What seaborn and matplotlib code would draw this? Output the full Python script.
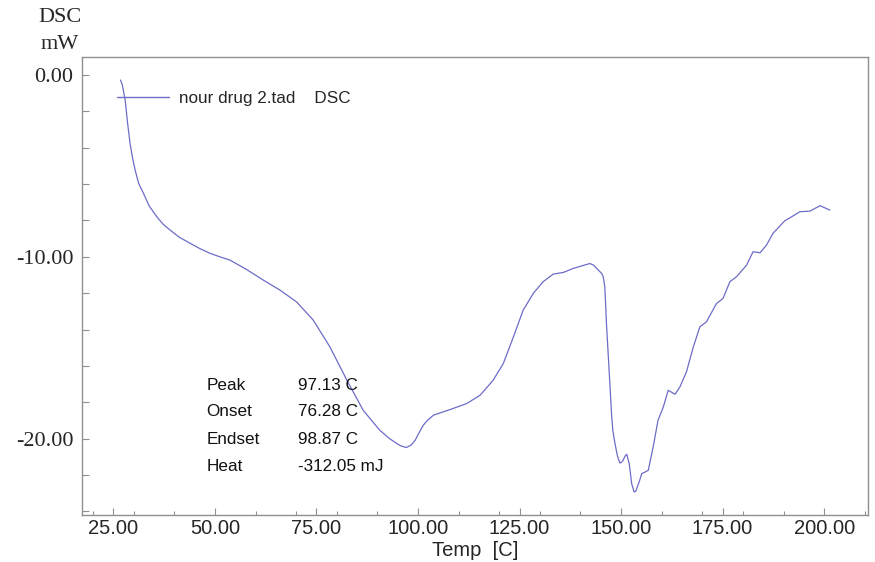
import matplotlib
matplotlib.use("Agg")
import matplotlib.pyplot as plt
from matplotlib.ticker import MultipleLocator, FixedLocator, FormatStrFormatter
import seaborn as sns
import pandas as pd

# DSC thermogram: temperature (C) and heat flow (mW)
temp = [26.75, 27.2, 27.9, 28.5, 29.1, 29.7, 30.35, 31.2, 32.4, 33.8, 35.7,
        37.2, 38.96, 41.2, 43.9, 46.3, 48.8, 51.2, 53.7, 57.8, 61.9, 66.0,
        70.1, 74.2, 78.3, 82.5, 86.5, 90.6, 93.0, 94.8, 95.8, 97.13, 98.3,
        99.3, 100.2, 101.3, 102.3, 103.8, 107.9, 112.0, 115.3, 118.5, 121.0,
        123.5, 125.9, 128.4, 130.8, 133.3, 135.8, 138.2, 140.3, 142.3, 143.2,
        144.0, 145.2, 145.6, 146.0, 146.4, 147.1, 147.7, 148.0, 148.5, 149.1,
        149.7, 150.1, 150.5, 151.0, 151.4, 152.0, 152.3, 152.6, 153.2, 153.6,
        154.0, 154.5, 155.1, 155.8, 156.7, 157.9, 159.1, 160.4, 161.6, 163.3,
        164.5, 166.1, 167.8, 169.4, 171.0, 173.5, 175.1, 176.8, 178.4, 180.9,
        182.5, 184.2, 185.8, 187.4, 190.3, 192.0, 194.0, 196.5, 199.0, 201.4]
dsc = [-0.28, -0.55, -1.38, -2.66, -3.76, -4.55, -5.23, -5.95, -6.51, -7.20, -7.80,
       -8.20, -8.53, -8.92, -9.26, -9.55, -9.81, -10.00, -10.18, -10.70, -11.28, -11.83,
       -12.48, -13.48, -14.95, -16.79, -18.44, -19.54, -20.00, -20.27, -20.40, -20.49, -20.35,
       -20.09, -19.70, -19.26, -19.00, -18.71, -18.40, -18.07, -17.61, -16.79, -15.87,
       -14.40, -12.93, -12.01, -11.37, -10.95, -10.86, -10.64, -10.50, -10.37, -10.45,
       -10.64, -10.91, -11.10, -11.65, -13.67, -16.42, -18.81, -19.60, -20.27, -20.95,
       -21.34, -21.30, -21.19, -20.95, -20.86, -21.37, -21.90, -22.47, -22.93, -22.90,
       -22.66, -22.35, -21.92, -21.85, -21.74, -20.46, -18.99, -18.26, -17.34, -17.56,
       -17.15, -16.33, -14.95, -13.85, -13.58, -12.57, -12.29, -11.37, -11.10, -10.46,
       -9.72, -9.78, -9.36, -8.71, -8.02, -7.80, -7.52, -7.49, -7.19, -7.43]

series_name = "nour drug 2.tad    DSC"

# Peak analysis results
result_names = ["Peak", "Onset", "Endset", "Heat"]
result_values = ["97.13 C", "76.28 C", "98.87 C", "-312.05 mJ"]

x_major = [25, 50, 75, 100, 125, 150, 175, 200]
y_major = [0, -10, -20]

sns.set_theme(style="white")
plt.rcParams["font.family"] = ["Liberation Sans", "DejaVu Sans"]

df = pd.DataFrame({"Temp": temp, "DSC": dsc})

fig = plt.figure(figsize=(8.75, 5.62), dpi=100)
ax = fig.add_axes([0.0934, 0.0836, 0.8986, 0.8144])

line_color = "#6c6cc8"
sns.lineplot(data=df, x="Temp", y="DSC", ax=ax, color=line_color,
             linewidth=0.9, estimator=None, sort=False, label=series_name)

ax.set_xlim(17.2, 210.8)
ax.set_ylim(-24.2, 0.97)

ax.xaxis.set_major_locator(FixedLocator(x_major))
ax.xaxis.set_minor_locator(MultipleLocator(10))
ax.yaxis.set_major_locator(FixedLocator(y_major))
ax.yaxis.set_minor_locator(MultipleLocator(2))
ax.xaxis.set_major_formatter(FormatStrFormatter("%.2f"))
ax.yaxis.set_major_formatter(FormatStrFormatter("%.2f"))

spine_color = "#909090"
for s in ax.spines.values():
    s.set_color(spine_color)
    s.set_linewidth(1.0)

ax.tick_params(axis="x", which="major", direction="in", length=5, width=0.8,
               color=spine_color, pad=3, labelsize=14.5, bottom=True)
ax.tick_params(axis="x", which="minor", direction="in", length=3, width=0.8,
               color=spine_color, bottom=True)
ax.tick_params(axis="y", which="both", direction="in", length=5, width=0.8,
               color=spine_color, pad=6, labelsize=16, left=True)
for lbl in ax.get_yticklabels():
    lbl.set_fontfamily(["Liberation Serif", "DejaVu Serif"])

ax.set_xlabel("Temp  [C]", fontsize=14.5, labelpad=2)
ax.set_ylabel("")

fig.text(0.068, 0.968, "DSC", ha="center", va="center", fontsize=16,
         family=["Liberation Serif", "DejaVu Serif"])
fig.text(0.068, 0.921, "mW", ha="center", va="center", fontsize=16,
         family=["Liberation Serif", "DejaVu Serif"])

leg = ax.legend(loc="center left", bbox_to_anchor=(0.0453, 0.910), frameon=False,
                fontsize=12.3, handlelength=3.0, handletextpad=0.6,
                borderpad=0, borderaxespad=0)
for h in leg.get_lines():
    h.set_linewidth(1.0)

row_y = [0.284, 0.2257, 0.166, 0.107]
for name, val, yy in zip(result_names, result_values, row_y):
    ax.text(0.159, yy, name, transform=ax.transAxes, ha="left", va="center",
            fontsize=12.3, color="#111111")
    ax.text(0.2755, yy, val, transform=ax.transAxes, ha="left", va="center",
            fontsize=12.3, color="#111111")

fig.savefig("out.png", dpi=100)
